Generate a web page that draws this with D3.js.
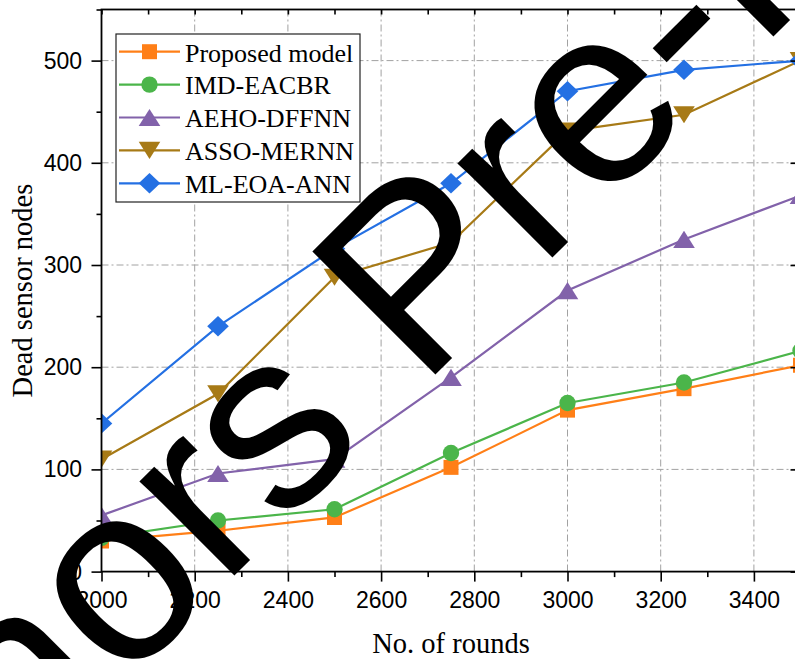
<!DOCTYPE html>
<html>
<head>
<meta charset="utf-8">
<script src="https://cdn.jsdelivr.net/npm/d3@7"></script>
<style>
  html, body { margin: 0; padding: 0; background: #fff; overflow: hidden; }
  svg { display: block; }
</style>
</head>
<body>
<svg id="chart" width="795" height="659"></svg>
<script>
// Dead sensor nodes versus number of rounds, five routing models
const rounds = [2000, 2250, 2500, 2750, 3000, 3250, 3500];
const proposedModel = [30, 40, 53, 102, 158, 179, 202];
const imdEacbr      = [33, 50, 61, 116, 165, 185, 216];
const aehoDffnn     = [55, 96, 110, 190, 275, 325, 368];
const assoMernn     = [110, 174, 288, 322, 431, 447, 500];
const mlEoaAnn      = [145, 240, 316, 380, 470, 491, 500];

const seriesNames  = ["Proposed model", "IMD-EACBR", "AEHO-DFFNN", "ASSO-MERNN", "ML-EOA-ANN"];
const seriesValues = [proposedModel, imdEacbr, aehoDffnn, assoMernn, mlEoaAnn];
const seriesColors = ["#ff7f17", "#4bb54a", "#8262aa", "#a77a16", "#2470e3"];
const seriesMarks  = ["square", "circle", "triangleUp", "triangleDown", "diamond"];

const xMajorTicks = [2000, 2200, 2400, 2600, 2800, 3000, 3200, 3400];
const xMinorTicks = [2100, 2300, 2500, 2700, 2900, 3100, 3300, 3500];
const yMajorTicks = [0, 100, 200, 300, 400, 500];
const yMinorTicks = [50, 150, 250, 350, 450, 550];
const xGridTicks  = [2200, 2400, 2600, 2800, 3000, 3200, 3400];
const yGridTicks  = [100, 200, 300, 400, 500];

const xTitle = "No. of rounds";
const yTitle = "Dead sensor nodes";
const stampText = "Authors Pre-Proof";

const svg = d3.select("#chart");
const pLeft = 101.5, pRight = 800.5, pTop = 9.5, pBottom = 571.6;

const x = d3.scaleLinear().domain([2000, 3500]).range([pLeft, pRight]);
const y = d3.scaleLinear().domain([0, 550]).range([pBottom, pTop]);

const sans = "'Liberation Sans', Arial, sans-serif";
const serif = "'Liberation Serif', 'Times New Roman', serif";

// marker shapes centred on the point
function markPath(kind) {
  switch (kind) {
    case "square": { const h = 7.5; return `M${-h},${-h}H${h}V${h}H${-h}Z`; }
    case "circle": { const r = 8.2; return `M${r},0A${r},${r} 0 1,1 ${-r},0A${r},${r} 0 1,1 ${r},0Z`; }
    case "triangleUp": { const w = 10.8, h = 8.6; return `M0,${-h}L${w},${h}L${-w},${h}Z`; }
    case "triangleDown": { const w = 10.8, h = 8.6; return `M0,${h}L${w},${-h}L${-w},${-h}Z`; }
    case "diamond": { const w = 10.8, h = 10.2; return `M0,${-h}L${w},0L0,${h}L${-w},0Z`; }
  }
}

svg.append("defs").append("clipPath").attr("id", "plotClip")
  .append("rect").attr("x", pLeft).attr("y", pTop)
  .attr("width", pRight - pLeft).attr("height", pBottom - pTop);

// grid
const grid = svg.append("g").attr("stroke", "#a2a2a2").attr("stroke-width", 1)
  .attr("stroke-dasharray", "7,3,2,3").attr("fill", "none");
grid.selectAll("line.h").data(yGridTicks).join("line").attr("class", "h")
  .attr("x1", pLeft).attr("x2", pRight).attr("y1", d => y(d)).attr("y2", d => y(d));
grid.selectAll("line.v").data(xGridTicks).join("line").attr("class", "v")
  .attr("y1", pTop).attr("y2", pBottom).attr("x1", d => x(d)).attr("x2", d => x(d));

// series
const plot = svg.append("g").attr("clip-path", "url(#plotClip)");
const line = d3.line().x((d, i) => x(rounds[i])).y(d => y(d));
seriesValues.forEach((vals, k) => {
  plot.append("path").datum(vals).attr("d", line)
    .attr("fill", "none").attr("stroke", seriesColors[k]).attr("stroke-width", 2.2);
});
seriesValues.forEach((vals, k) => {
  plot.append("g").selectAll("path").data(vals).join("path")
    .attr("transform", (d, i) => `translate(${x(rounds[i])},${y(d)})`)
    .attr("d", markPath(seriesMarks[k]))
    .attr("fill", seriesColors[k]);
});

// axes
const axisStyle = g => {
  g.select(".domain").remove();
  g.selectAll(".tick line").attr("stroke", "#000").attr("stroke-width", 1.6);
  g.selectAll(".tick text").attr("font-family", sans).attr("font-size", 23).attr("fill", "#000");
};

svg.append("g").attr("transform", `translate(0,${pBottom})`)
  .call(d3.axisBottom(x).tickValues(xMajorTicks).tickFormat(d3.format("d")).tickSize(10).tickPadding(10))
  .call(axisStyle)
  .call(g => g.selectAll(".tick text").attr("dy", 0).attr("y", 36.5));
svg.append("g").attr("transform", `translate(0,${pBottom})`)
  .call(d3.axisBottom(x).tickValues(xMinorTicks).tickFormat("").tickSize(5.5))
  .call(axisStyle);

svg.append("g").attr("transform", `translate(${pLeft},0)`)
  .call(d3.axisLeft(y).tickValues(yMajorTicks).tickFormat(d3.format("d")).tickSize(10).tickPadding(9.5))
  .call(axisStyle)
  .call(g => g.selectAll(".tick text").attr("dy", "0.33em"));
svg.append("g").attr("transform", `translate(${pLeft},0)`)
  .call(d3.axisLeft(y).tickValues(yMinorTicks).tickFormat("").tickSize(5))
  .call(axisStyle);

// inward ticks on the top and right edges
svg.append("g").attr("transform", `translate(0,${pTop})`)
  .call(d3.axisBottom(x).tickValues(xMajorTicks.concat(xMinorTicks)).tickFormat("").tickSize(5))
  .call(axisStyle);
svg.append("g").attr("transform", `translate(${pRight},0)`)
  .call(d3.axisLeft(y).tickValues(yMajorTicks).tickFormat("").tickSize(10))
  .call(axisStyle);
svg.append("g").attr("transform", `translate(${pRight},0)`)
  .call(d3.axisLeft(y).tickValues(yMinorTicks).tickFormat("").tickSize(5))
  .call(axisStyle);

// frame
svg.append("rect").attr("x", pLeft).attr("y", pTop)
  .attr("width", pRight - pLeft).attr("height", pBottom - pTop)
  .attr("fill", "none").attr("stroke", "#000").attr("stroke-width", 1.8);

// axis titles
svg.append("text").text(xTitle)
  .attr("x", (pLeft + pRight) / 2).attr("y", 653)
  .attr("text-anchor", "middle").attr("font-family", serif).attr("font-size", 28.5).attr("fill", "#000");
svg.append("text").text(yTitle)
  .attr("transform", `translate(32,${(pTop + pBottom) / 2}) rotate(-90)`)
  .attr("text-anchor", "middle").attr("font-family", serif).attr("font-size", 28.5).attr("fill", "#000");

// legend
const legend = svg.append("g");
legend.append("rect").attr("x", 116).attr("y", 34).attr("width", 244).attr("height", 168)
  .attr("fill", "#fff").attr("stroke", "#222").attr("stroke-width", 1.2);
const rowY = i => 51.7 + i * 32.9;
seriesNames.forEach((name, k) => {
  const row = legend.append("g").attr("transform", `translate(0,${rowY(k)})`);
  row.append("line").attr("x1", 119).attr("x2", 180).attr("y1", 0).attr("y2", 0)
    .attr("stroke", seriesColors[k]).attr("stroke-width", 2.2);
  row.append("path").attr("transform", "translate(149.5,0)")
    .attr("d", markPath(seriesMarks[k])).attr("fill", seriesColors[k]);
  row.append("text").text(name).attr("x", 185).attr("y", 9.8)
    .attr("font-family", serif).attr("font-size", 26).attr("fill", "#000");
});

// diagonal stamp across the figure
svg.append("text").text(stampText)
  .attr("transform", "translate(-245.5,1055.5) rotate(-45)")
  .attr("font-family", sans).attr("font-size", 253).attr("fill", "#000");
</script>
</body>
</html>
